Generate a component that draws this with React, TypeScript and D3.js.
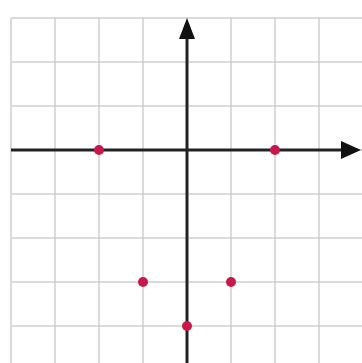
import React from "react";
import * as d3 from "d3";

const xValues = [-2, -1, 0, 1, 2];
const yValues = [0, -3, -4, -3, 0];
const xGridTicks = [-4, -3, -2, -1, 0, 1, 2, 3, 4];
const yGridTicks = [3, 2, 1, 0, -1, -2, -3, -4, -5];

const W = 362;
const H = 363;

export default function App() {
  const x = d3.scaleLinear().domain([-4, 4]).range([11, 363]);
  const y = d3.scaleLinear().domain([3, -4]).range([18, 326]);
  const x0 = x(0);
  const y0 = y(0);
  const gridTop = y(3);
  const gridLeft = x(-4);

  const tri = d3.line();

  return (
    <svg
      width={W}
      height={H}
      style={{ position: "absolute", left: 0, top: 0, background: "#fff" }}
    >
      <rect width={W} height={H} fill="#fff" />
      <g stroke="#cfcfcf" strokeWidth={1.5}>
        {xGridTicks.map((t) => (
          <line key={"gx" + t} x1={x(t)} x2={x(t)} y1={gridTop} y2={H} />
        ))}
        {yGridTicks.map((t) => (
          <line key={"gy" + t} x1={gridLeft} x2={W} y1={y(t)} y2={y(t)} />
        ))}
      </g>
      <g stroke="#222" strokeWidth={3}>
        <line x1={gridLeft} x2={W - 14} y1={y0} y2={y0} />
        <line x1={x0} x2={x0} y1={H} y2={gridTop + 14} />
      </g>
      <path
        d={tri([
          [x0, gridTop],
          [x0 - 8, gridTop + 21],
          [x0 + 8, gridTop + 21],
        ])! + "Z"}
        fill="#111"
      />
      <path
        d={tri([
          [W - 1, y0],
          [W - 21, y0 - 9],
          [W - 21, y0 + 9],
        ])! + "Z"}
        fill="#111"
      />
      <g fill="#c8174a">
        {xValues.map((v, i) => (
          <circle key={i} cx={x(v)} cy={y(yValues[i])} r={5} />
        ))}
      </g>
    </svg>
  );
}
